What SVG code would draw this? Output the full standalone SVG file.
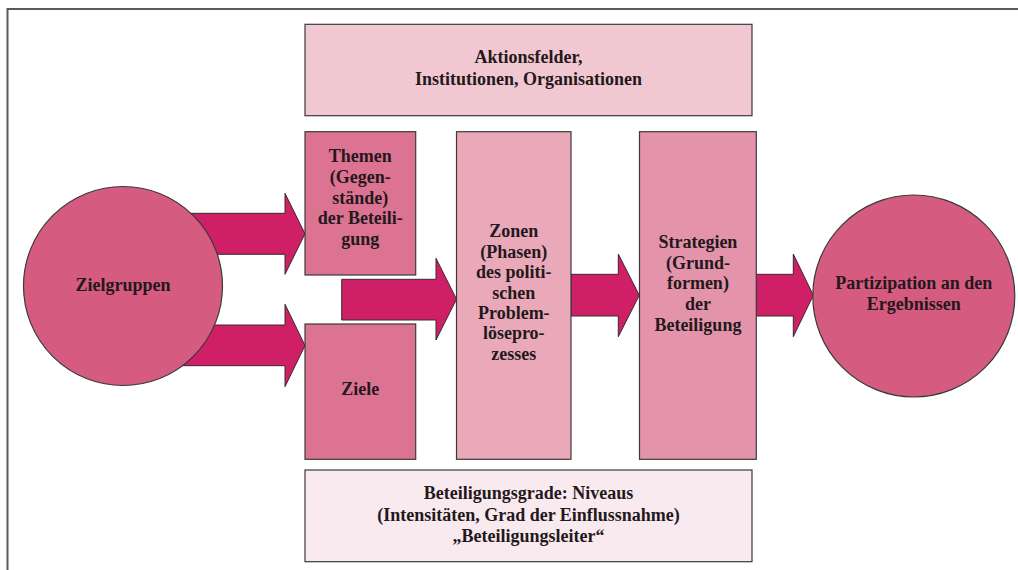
<svg xmlns="http://www.w3.org/2000/svg" width="1018" height="570" viewBox="0 0 1018 570">
<style>
text{font-family:"Liberation Serif","DejaVu Serif",serif;font-weight:bold;font-size:18px;fill:#24181c;text-anchor:middle}
.frame{fill:none;stroke:#5a5a5a;stroke-width:2}
.arrow{fill:#cf1f66;stroke:#3a2a30;stroke-width:1}
.node{stroke:#3a3a3a;stroke-width:1.2}
.circ{fill:#d65b80}
.tz{fill:#dc7393}
.zon{fill:#e9a9b9}
.str{fill:#e393aa}
.top{fill:#f1c8d2}
.bot{fill:#f8eaee}
</style>
<rect width="1018" height="570" fill="#ffffff"/>
<path class="frame" d="M7.5,570 V9 H1018"/>
<g id="connectors">
<polygon class="arrow" points="180,213.3 285,213.3 285,193.3 305,233.8 285,274.3 285,254.3 180,254.3"/>
<polygon class="arrow" points="170,325 285,325 285,304.3 305,345.5 285,386.7 285,365.7 170,365.7"/>
<polygon class="arrow" points="341.7,279.3 436,279.3 436,258.3 456.5,299.2 436,340 436,320 341.7,320"/>
<polygon class="arrow" points="571,274.3 618.3,274.3 618.3,254 639.3,295.3 618.3,336.7 618.3,316 571,316"/>
<polygon class="arrow" points="756,274.3 793.3,274.3 793.3,254 813.3,295.3 793.3,336.7 793.3,316 756,316"/>
</g>
<g id="aktionsfelder">
<rect class="node top" x="305" y="24.3" width="447" height="91.4"/>
<text x="528.5" y="63">Aktionsfelder,</text>
<text x="528.5" y="85">Institutionen, Organisationen</text>
</g>
<g id="zielgruppen">
<circle class="node circ" cx="123" cy="286" r="99.5"/>
<text x="123" y="291">Zielgruppen</text>
</g>
<g id="themen">
<rect class="node tz" x="305" y="131.7" width="110.7" height="143.3"/>
<text x="360.3" y="162">Themen</text>
<text x="360.3" y="183">(Gegen-</text>
<text x="360.3" y="203.5">stände)</text>
<text x="360.3" y="224">der Beteili-</text>
<text x="360.3" y="244.5">gung</text>
</g>
<g id="ziele">
<rect class="node tz" x="305" y="324" width="110.7" height="135.3"/>
<text x="360.3" y="395">Ziele</text>
</g>
<g id="zonen">
<rect class="node zon" x="456.5" y="131.7" width="114.5" height="327.6"/>
<text x="513.8" y="237">Zonen</text>
<text x="513.8" y="257.5">(Phasen)</text>
<text x="513.8" y="278">des politi-</text>
<text x="513.8" y="298.5">schen</text>
<text x="513.8" y="319">Problem-</text>
<text x="513.8" y="339">lösepro-</text>
<text x="513.8" y="359.5">zesses</text>
</g>
<g id="strategien">
<rect class="node str" x="639.5" y="131.7" width="116.8" height="327.6"/>
<text x="697.9" y="248">Strategien</text>
<text x="697.9" y="268.5">(Grund-</text>
<text x="697.9" y="289">formen)</text>
<text x="697.9" y="310">der</text>
<text x="697.9" y="330.5">Beteiligung</text>
</g>
<g id="partizipation">
<circle class="node circ" cx="913.8" cy="296" r="101"/>
<text x="913.8" y="288.5">Partizipation an den</text>
<text x="913.8" y="309.5">Ergebnissen</text>
</g>
<g id="beteiligungsgrade">
<rect class="node bot" x="305" y="470" width="447" height="91.7"/>
<text x="528.5" y="499">Beteiligungsgrade: Niveaus</text>
<text x="528.5" y="520.5">(Intensitäten, Grad der Einflussnahme)</text>
<text x="528.5" y="542">„Beteiligungsleiter“</text>
</g>
</svg>
